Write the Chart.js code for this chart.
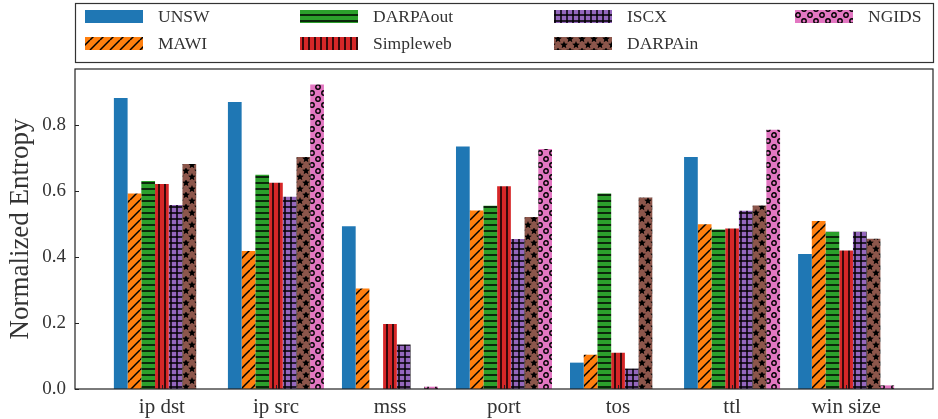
<!DOCTYPE html>
<html>
<head>
<meta charset="utf-8">
<script src="https://cdn.jsdelivr.net/npm/chart.js@4.4.0/dist/chart.umd.min.js"></script>
<style>
  html, body { margin: 0; padding: 0; background: #fff; }
  #wrap { width: 938px; height: 419px; }
</style>
</head>
<body>
<div id="wrap"><canvas id="chart" width="938" height="419"></canvas></div>
<script>
// =====================
// Data
// =====================
const features = ["ip dst", "ip src", "mss", "port", "tos", "ttl", "win size"];
const yTicks = [0.0, 0.2, 0.4, 0.6, 0.8];

const unsw      = [0.883, 0.871, 0.494, 0.736, 0.080, 0.704, 0.410];
const mawi      = [0.593, 0.419, 0.305, 0.542, 0.104, 0.500, 0.510];
const darpaOut  = [0.631, 0.650, 0.000, 0.556, 0.593, 0.484, 0.477];
const simpleweb = [0.622, 0.626, 0.197, 0.615, 0.110, 0.487, 0.420];
const iscx      = [0.558, 0.583, 0.135, 0.455, 0.062, 0.541, 0.477];
const darpaIn   = [0.683, 0.704, 0.000, 0.522, 0.581, 0.557, 0.456];
const ngids     = [0.000, 0.924, 0.007, 0.728, 0.000, 0.787, 0.011];

const seriesNames = ["UNSW", "MAWI", "DARPAout", "Simpleweb", "ISCX", "DARPAin", "NGIDS"];
const seriesValues = [unsw, mawi, darpaOut, simpleweb, iscx, darpaIn, ngids];
const seriesColors = ["#1f77b4", "#ff7f0e", "#2ca02c", "#d62728", "#9467bd", "#8c564b", "#e377c2"];
const seriesHatch = ["", "/", "-", "|", "+", "*", "o"];

const FONT = "'Liberation Serif', 'DejaVu Serif', serif";
const TEXT = "#333";

// =====================
// Hatch patterns
// =====================
function star(ctx, cx, cy, r) {
  ctx.beginPath();
  for (let i = 0; i < 10; i++) {
    const a = -Math.PI / 2 + i * Math.PI / 5;
    const rr = i % 2 ? r * 0.45 : r;
    ctx.lineTo(cx + rr * Math.cos(a), cy + rr * Math.sin(a));
  }
  ctx.closePath();
  ctx.fill();
}

function makePattern(color, hatch) {
  if (!hatch) return color;
  const size = (hatch === "*" || hatch === "o") ? 12 : (hatch === "/" ? 10 : 6);
  const c = document.createElement("canvas");
  c.width = size; c.height = size;
  const g = c.getContext("2d");
  g.fillStyle = color;
  g.fillRect(0, 0, size, size);
  g.strokeStyle = "#000";
  g.fillStyle = "#000";
  g.lineWidth = 1.5;
  g.beginPath();
  if (hatch === "/") {
    for (let k = -1; k <= 1; k++) {
      g.moveTo(k * size, size);
      g.lineTo(k * size + size, 0);
    }
    g.stroke();
  } else if (hatch === "-" || hatch === "+") {
    g.moveTo(0, 3); g.lineTo(size, 3);
    if (hatch === "+") { g.moveTo(3, 0); g.lineTo(3, size); }
    g.stroke();
  } else if (hatch === "|") {
    g.moveTo(3, 0); g.lineTo(3, size);
    g.stroke();
  } else if (hatch === "*") {
    [[6, 3], [0, 9], [12, 9]].forEach(p => star(g, p[0], p[1], 4));
  } else if (hatch === "o") {
    g.lineWidth = 1.4;
    [[6, 3], [0, 9], [12, 9]].forEach(p => {
      g.beginPath();
      g.arc(p[0], p[1], 2.2, 0, Math.PI * 2);
      g.stroke();
    });
  }
  return g.createPattern(c, "repeat");
}

const ctx = document.getElementById("chart").getContext("2d");
const fills = seriesColors.map((col, i) => makePattern(col, seriesHatch[i]));

// =====================
// Frame, inward ticks and boxed legend
// =====================
const framePlugin = {
  id: "frame",
  afterDraw(chart) {
    const { ctx, chartArea: a, scales } = chart;
    ctx.save();
    ctx.strokeStyle = "#222";
    ctx.lineWidth = 1.2;
    ctx.strokeRect(a.left, a.top, a.right - a.left, a.bottom - a.top);

    ctx.lineWidth = 1;
    ctx.beginPath();
    yTicks.forEach(v => {
      const y = Math.round(scales.y.getPixelForValue(v)) + 0.5;
      ctx.moveTo(a.left, y); ctx.lineTo(a.left + 4, y);
    });
    features.forEach((f, i) => {
      const x = Math.round(scales.x.getPixelForValue(i)) + 0.5;
      ctx.moveTo(x, a.bottom); ctx.lineTo(x, a.bottom - 4);
    });
    ctx.stroke();

    // legend box
    ctx.strokeStyle = "#333";
    ctx.lineWidth = 1.2;
    ctx.strokeRect(75.5, 3.5, 858, 59);
    const colX = [85, 300, 554, 795];
    const rowY = [10, 37];
    ctx.font = "17.5px " + FONT;
    ctx.textBaseline = "middle";
    seriesNames.forEach((name, i) => {
      const col = Math.floor(i / 2), row = i % 2;
      const x = colX[col], y = rowY[row];
      ctx.fillStyle = fills[i];
      ctx.fillRect(x, y, 58, 13);
      ctx.fillStyle = TEXT;
      ctx.fillText(name, x + 73, y + 7);
    });
    ctx.restore();
  }
};

// =====================
// Chart.js
// =====================
Chart.defaults.font.family = FONT;
Chart.defaults.color = TEXT;

new Chart(ctx, {
  type: "bar",
  data: {
    datasets: seriesNames.map((name, i) => ({
      label: name,
      data: seriesValues[i].map((v, k) => ({ x: k, y: v })),
      backgroundColor: fills[i],
      borderWidth: 0,
      categoryPercentage: 0.842,
      barPercentage: 1.0
    }))
  },
  options: {
    responsive: false,
    animation: false,
    layout: { padding: { top: 69, right: 5, bottom: 0, left: 0 } },
    plugins: { legend: { display: false }, tooltip: { enabled: false } },
    scales: {
      x: {
        type: "linear",
        offset: false,
        min: -0.762,
        max: 6.762,
        grid: { display: false, drawTicks: false },
        border: { display: false },
        afterBuildTicks: s => { s.ticks = features.map((f, i) => ({ value: i })); },
        afterFit: s => { s.height = 30; },
        ticks: {
          autoSkip: false,
          maxRotation: 0,
          padding: 6,
          font: { size: 21 },
          callback: v => features[v]
        }
      },
      y: {
        min: 0,
        max: 0.971,
        grid: { display: false, drawTicks: false },
        border: { display: false },
        afterBuildTicks: s => { s.ticks = yTicks.map(v => ({ value: v })); },
        afterFit: s => { s.width = 75; },
        ticks: {
          padding: 9,
          font: { size: 19 },
          callback: v => v.toFixed(1)
        },
        title: {
          display: true,
          text: "Normalized Entropy",
          font: { size: 27 },
          padding: { top: 5, bottom: 0 }
        }
      }
    }
  },
  plugins: [framePlugin]
});
</script>
</body>
</html>
